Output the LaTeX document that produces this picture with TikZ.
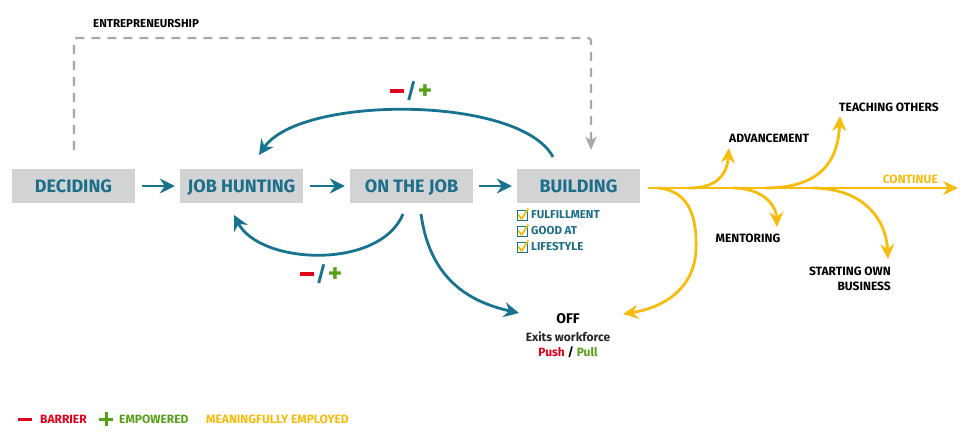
\documentclass[tikz,border=0pt]{standalone}
\usepackage{fontspec}
\setmainfont{Fira Sans}
\usetikzlibrary{arrows.meta,calc}
\definecolor{cteal}{HTML}{17738F}
\definecolor{cboxtext}{HTML}{1D6E89}
\definecolor{cbox}{HTML}{D2D3D5}
\definecolor{cgold}{HTML}{F7BC0C}
\definecolor{cgray}{HTML}{A9A9A9}
\definecolor{cred}{HTML}{E2001A}
\definecolor{cgreen}{HTML}{56A01A}
\tikzset{
  stage/.style={fill=cbox, text=cboxtext, minimum width=123pt, minimum height=34pt, inner sep=0pt,
    text height=12.4pt, text depth=0pt, font=\fontsize{18}{20}\selectfont\bfseries},
  tealarrow/.style={draw=cteal, line width=2.8pt, -{Stealth[length=15pt,width=15pt,inset=5pt]}},
  goldarrow/.style={draw=cgold, line width=2.8pt, -{Stealth[length=15pt,width=14pt,inset=5pt]}},
  dashline/.style={draw=cgray, line width=2.4pt, dash pattern=on 9pt off 7pt, rounded corners=3pt,
    -{Stealth[length=13pt,width=11pt,inset=3pt]}},
  lbl/.style={inner sep=0pt, font=\fontsize{12}{14}\selectfont\bfseries, text=black},
  checkitem/.style={inner sep=0pt, anchor=west, text=cboxtext, font=\fontsize{11.5}{13}\selectfont\bfseries},
  legend/.style={inner sep=0pt, anchor=west, font=\fontsize{12}{14}\selectfont\bfseries},
  pm/.style={inner sep=0pt, font=\fontsize{21}{23}\selectfont\bfseries}
}
\newcommand{\pmtext}{\textcolor{cred}{\rule[5.5pt]{14pt}{3.4pt}}\kern2pt\textcolor{cteal}{/}\kern1pt\textcolor{cgreen}{\fontsize{27}{27}\selectfont\raisebox{-1.5pt}{+}}}
\newcommand{\chkbox}[1]{%
  \draw[cteal, line width=0.9pt] ($(#1)+(-5,-5)$) rectangle ($(#1)+(5,5)$);
  \draw[cgold, line width=1.8pt, line cap=round, line join=round] ($(#1)+(-3.5,0)$) -- ($(#1)+(-0.5,4)$) -- ($(#1)+(6,-6)$);}
\begin{document}
\begin{tikzpicture}[x=1pt,y=-1pt]
\useasboundingbox[fill=white] (0,0) rectangle (980,446);

% stages
\node[stage] (dec) at (73.5,186) {DECIDING};
\node[stage] (hunt) at (241.5,186) {JOB HUNTING};
\node[stage] (job) at (411.5,186) {ON THE JOB};
\node[stage] (build) at (578.5,186) {BUILDING};

% straight arrows
\draw[tealarrow, shorten <=7pt, shorten >=5pt] (dec.east) -- (hunt.west);
\draw[tealarrow, shorten <=7pt, shorten >=5pt] (hunt.east) -- (job.west);
\draw[tealarrow, shorten <=6pt, shorten >=5pt] (job.east) -- (build.west);

% entrepreneurship dashed loop
\coordinate (entL) at (74,150);
\coordinate (entR) at (591,150);
\draw[dashline] (entL) -- (74,38) -- (591,38) -- (entR);
\node[lbl, anchor=west, font=\fontsize{11.5}{13}\selectfont\bfseries] (entre) at (93,24) {ENTREPRENEURSHIP};

% top loop building -> job hunting
\coordinate (btop) at (553,157);
\coordinate (htop) at (259,155);
\draw[tealarrow] (btop) .. controls (520,95) and (300,95) .. (htop);
\node[pm] (pmtop) at (411,91) {\pmtext};

% bottom loop on the job -> job hunting
\coordinate (jbot) at (403,214);
\coordinate (hbot) at (234,215);
\draw[tealarrow] (jbot) .. controls (380,270) and (260,265) .. (hbot);
\node[pm] (pmbot) at (321,274) {\pmtext};

% OFF
\node[inner sep=0pt, font=\fontsize{14}{16}\selectfont\bfseries] (off) at (568,319) {OFF};
\node[inner sep=0pt, font=\fontsize{12}{14}\selectfont\bfseries, text=black!85] (exits) at (568,337) {Exits workforce};
\node[inner sep=0pt, font=\fontsize{12}{14}\selectfont\bfseries] (pp) at (568,352) {\textcolor{cred}{Push} / \textcolor{cgreen}{Pull}};
\coordinate (offL) at (519,313);
\coordinate (offR) at (623,314);
\coordinate (jbot2) at (421,214);
\draw[tealarrow] (jbot2) .. controls (430,280) and (470,302) .. (offL);

% checklist
\coordinate (c1) at (522,215);
\coordinate (c2) at (522,231);
\coordinate (c3) at (522,247);
\chkbox{c1}\chkbox{c2}\chkbox{c3}
\node[checkitem] (f1) at (531,215) {FULFILLMENT};
\node[checkitem] (f2) at (531,231) {GOOD AT};
\node[checkitem] (f3) at (531,247) {LIFESTYLE};

% gold branches
\coordinate (mstart) at (648,188);
\coordinate (mend) at (958,188);
\draw[goldarrow] (mstart) -- (mend);
\node[inner sep=0pt, anchor=east, text=cgold, font=\fontsize{12}{14}\selectfont\bfseries] (cont) at (938,179) {CONTINUE};

\coordinate (adv) at (729,148);
\draw[goldarrow] (690,188) .. controls (716,188) and (727,175) .. (adv);
\node[lbl, anchor=west] (advl) at (729,138) {ADVANCEMENT};

\coordinate (teach) at (840,116);
\draw[goldarrow] (765,188) .. controls (822,188) and (838,160) .. (teach);
\node[lbl, anchor=west] (teachl) at (839,107) {TEACHING OTHERS};

\coordinate (ment) at (777,227);
\draw[goldarrow] (733,188) .. controls (760,188) and (776,203) .. (ment);
\node[lbl] (mentl) at (748,238) {MENTORING};

\coordinate (start) at (888,259);
\draw[goldarrow] (812,188) .. controls (862,188) and (886,218) .. (start);
\node[lbl, align=right, anchor=north east, font=\fontsize{12}{15}\selectfont\bfseries] (startl) at (891,267) {STARTING OWN\\BUSINESS};

\draw[goldarrow] (658,188) .. controls (692,191) and (697,222) .. (696,250) .. controls (694,290) and (662,308) .. (offR);

% legend
\draw[cred, line width=3pt] (18,419) -- (32,419);
\node[legend, text=cred] (barrier) at (40,419) {BARRIER};
\draw[cgreen, line width=3pt] (99,419) -- (113,419) (106,412) -- (106,426);
\node[legend, text=cgreen] (emp) at (119,419) {EMPOWERED};
\node[legend, text=cgold] (meaning) at (206,419) {MEANINGFULLY EMPLOYED};
\end{tikzpicture}
\end{document}
